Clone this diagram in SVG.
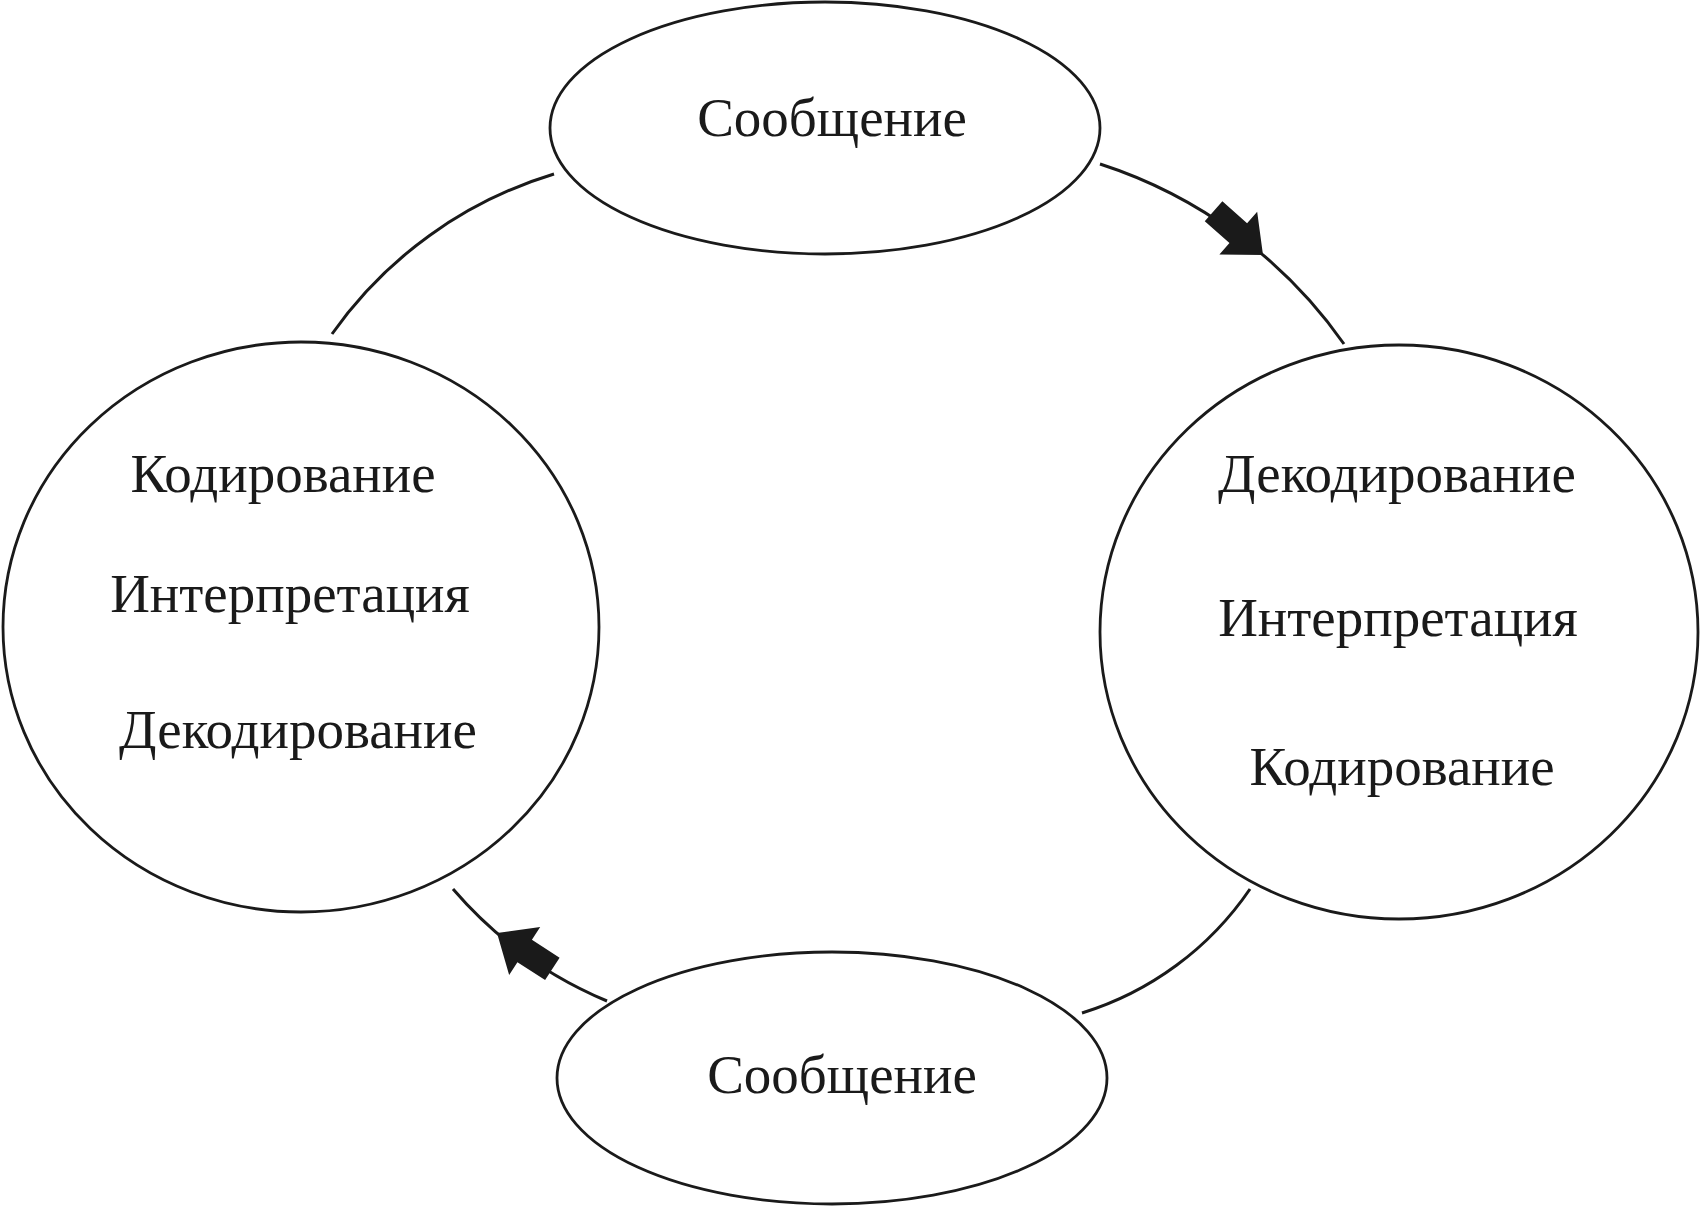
<svg xmlns="http://www.w3.org/2000/svg" width="1701" height="1210" viewBox="0 0 1701 1210">
<style>
.node{fill:#fff;stroke:#1a1a1a;stroke-width:2.8}
.lbl{font-family:"Liberation Serif","Times New Roman",serif;font-size:55px;fill:#1a1a1a;text-anchor:middle}
.con{fill:none;stroke:#1a1a1a;stroke-width:3}
.arr{fill:#1a1a1a;stroke:none}
</style>
<defs>
<path id="blockArrow" d="M0,0 L-33,-28.5 L-33,-13.3 L-66,-13.3 L-66,13.3 L-33,13.3 L-33,28.5 Z"/>
</defs>
<rect width="1701" height="1210" fill="#fff"/>
<g id="connectors">
<path class="con" d="M1100,164 A477,477 0 0 1 1344,344"/>
<path class="con" d="M1250,889 A316,316 0 0 1 1082,1013"/>
<path class="con" d="M607,1001 A414,414 0 0 1 453,889"/>
<path class="con" d="M554,174 A420,420 0 0 0 332,334"/>
<use href="#blockArrow" class="arr" transform="translate(1263,255) rotate(41.5)"/>
<use href="#blockArrow" class="arr" transform="translate(497,933) rotate(213)"/>
</g>
<g id="node-top">
<ellipse class="node" cx="825" cy="128" rx="275" ry="126"/>
<text class="lbl" x="832" y="136">Сообщение</text>
</g>
<g id="node-left">
<ellipse class="node" cx="301" cy="627" rx="298" ry="285"/>
<text class="lbl" x="283" y="492">Кодирование</text>
<text class="lbl" x="290" y="612">Интерпретация</text>
<text class="lbl" x="298" y="748">Декодирование</text>
</g>
<g id="node-right">
<ellipse class="node" cx="1399" cy="632" rx="299" ry="287"/>
<text class="lbl" x="1397" y="492">Декодирование</text>
<text class="lbl" x="1398" y="636">Интерпретация</text>
<text class="lbl" x="1402" y="785">Кодирование</text>
</g>
<g id="node-bottom">
<ellipse class="node" cx="832" cy="1078" rx="275" ry="126"/>
<text class="lbl" x="842" y="1093">Сообщение</text>
</g>
</svg>
